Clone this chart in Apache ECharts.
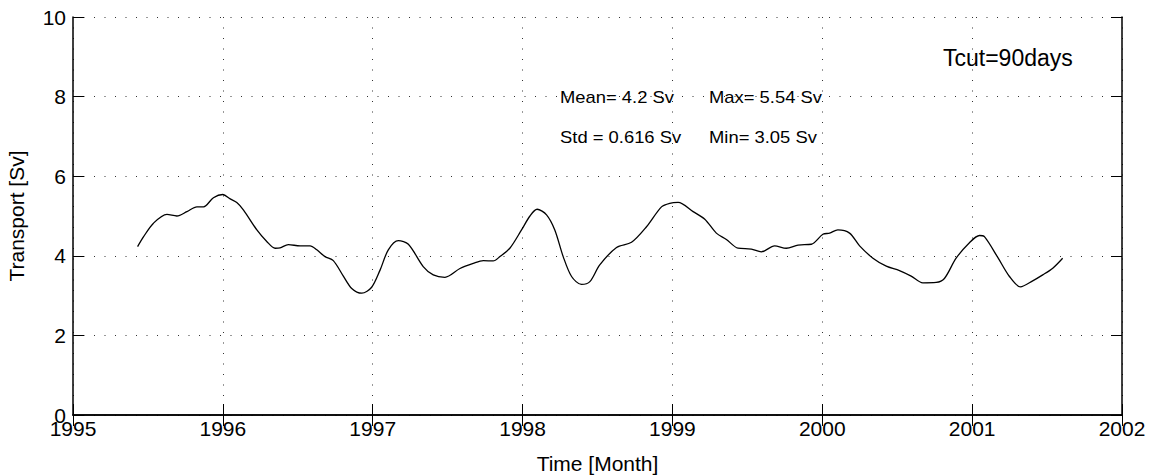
<!DOCTYPE html>
<html>
<head>
<meta charset="utf-8">
<title>Transport</title>
<script src="https://cdn.jsdelivr.net/npm/echarts@6/dist/echarts.min.js"></script>
<style>
    html, body { margin: 0; padding: 0; background: #fff; }
    #chart { width: 1154px; height: 476px; }
</style>
</head>
<body>
<div id="chart"></div>
<script>
    // 数据: 时间 (年) 与 输运量 (Sv)
    var times = [
        1995.431, 1995.471, 1995.537, 1995.627, 1995.693, 1995.760, 1995.827, 1995.871, 1995.937, 1996.000,
        1996.049, 1996.093, 1996.138, 1996.227, 1996.293, 1996.349, 1996.382, 1996.437, 1996.515, 1996.582,
        1996.627, 1996.682, 1996.737, 1996.804, 1996.860, 1996.927, 1996.993, 1997.049, 1997.104, 1997.171,
        1997.238, 1997.337, 1997.404, 1997.482, 1997.582, 1997.671, 1997.738, 1997.804, 1997.849, 1997.915,
        1997.993, 1998.049, 1998.097, 1998.160, 1998.215, 1998.271, 1998.327, 1998.393, 1998.449, 1998.515,
        1998.627, 1998.727, 1998.827, 1998.927, 1998.982, 1999.038, 1999.138, 1999.216, 1999.293, 1999.360,
        1999.438, 1999.527, 1999.593, 1999.682, 1999.760, 1999.838, 1999.927, 2000.004, 2000.049, 2000.104,
        2000.182, 2000.249, 2000.338, 2000.427, 2000.515, 2000.593, 2000.671, 2000.760, 2000.815, 2000.893,
        2000.982, 2001.049, 2001.082, 2001.171, 2001.249, 2001.322, 2001.404, 2001.471, 2001.538, 2001.604
    ];
    var transport = [
        4.23, 4.48, 4.82, 5.04, 5.00, 5.11, 5.23, 5.23, 5.46, 5.54,
        5.43, 5.34, 5.15, 4.65, 4.36, 4.19, 4.20, 4.28, 4.25, 4.25,
        4.15, 3.98, 3.88, 3.49, 3.18, 3.06, 3.21, 3.64, 4.15, 4.38,
        4.29, 3.73, 3.52, 3.46, 3.68, 3.81, 3.88, 3.87, 3.98, 4.19,
        4.65, 5.00, 5.17, 5.03, 4.65, 3.98, 3.48, 3.28, 3.35, 3.77,
        4.21, 4.34, 4.73, 5.23, 5.32, 5.34, 5.11, 4.92, 4.57, 4.41,
        4.19, 4.17, 4.10, 4.25, 4.19, 4.27, 4.29, 4.54, 4.57, 4.65,
        4.57, 4.25, 3.94, 3.74, 3.63, 3.49, 3.32, 3.33, 3.43, 3.94,
        4.33, 4.51, 4.48, 3.96, 3.48, 3.22, 3.37, 3.52, 3.69, 3.94
    ];
    // 统计文字
    var statsLeft = ['Mean= 4.2 Sv', 'Std = 0.616 Sv'];
    var statsRight = ['Max= 5.54 Sv', 'Min= 3.05 Sv'];
    var noteText = 'Tcut=90days';

    var FONT = '"Liberation Sans", Arial, sans-serif';

    var seriesData = times.map(function (t, i) { return [t, transport[i]]; });

    var gridLine = {
        show: true,
        lineStyle: { color: '#333', width: 1, type: [1, 9.5] }
    };
    var boxLine = { show: true, lineStyle: { color: '#000', width: 1.5 } };
    var tickIn = { show: true, inside: true, length: 11, lineStyle: { color: '#000' } };

    var chart = echarts.init(document.getElementById('chart'), null, { renderer: 'svg' });

    var textEls = [];
    statsLeft.forEach(function (s, i) {
        textEls.push({
            type: 'text', x: 560, y: 97 + i * 40, scaleX: 1.15,
            style: { text: s, font: '16px ' + FONT, fill: '#000', verticalAlign: 'middle' }
        });
    });
    statsRight.forEach(function (s, i) {
        textEls.push({
            type: 'text', x: 709, y: 97 + i * 40, scaleX: 1.15,
            style: { text: s, font: '16px ' + FONT, fill: '#000', verticalAlign: 'middle' }
        });
    });
    textEls.push({
        type: 'text', x: 943, y: 58,
        style: { text: noteText, font: '23px ' + FONT, fill: '#000', verticalAlign: 'middle' }
    });

    var option = {
        animation: false,
        backgroundColor: '#fff',
        grid: { left: 73, right: 32, top: 17, bottom: 61, containLabel: false, outerBoundsMode: 'none' },
        xAxis: [{
            type: 'value',
            min: 1995, max: 2002, interval: 1,
            name: 'Time [Month]',
            nameLocation: 'middle',
            nameGap: 38,
            nameTextStyle: { fontFamily: FONT, fontSize: 21, color: '#000' },
            axisLine: boxLine,
            axisTick: tickIn,
            axisLabel: {
                fontFamily: FONT, fontSize: 21, color: '#000', margin: 3,
                formatter: function (v) { return String(v); }
            },
            splitLine: gridLine
        }, {
            type: 'value', position: 'top',
            min: 1995, max: 2002, interval: 1,
            axisLine: boxLine,
            axisTick: tickIn,
            axisLabel: { show: false },
            splitLine: { show: false }
        }],
        yAxis: [{
            type: 'value',
            min: 0, max: 10, interval: 2,
            name: 'Transport [Sv]',
            nameLocation: 'middle',
            nameGap: 46,
            nameTextStyle: { fontFamily: FONT, fontSize: 21, color: '#000' },
            axisLine: boxLine,
            axisTick: tickIn,
            axisLabel: { fontFamily: FONT, fontSize: 21, color: '#000', margin: 7 },
            splitLine: gridLine
        }, {
            type: 'value', position: 'right',
            min: 0, max: 10, interval: 2,
            axisLine: boxLine,
            axisTick: tickIn,
            axisLabel: { show: false },
            splitLine: { show: false }
        }],
        series: [{
            type: 'line',
            xAxisIndex: 0,
            yAxisIndex: 0,
            data: seriesData,
            showSymbol: false,
            smooth: 0.3,
            lineStyle: { color: '#000', width: 1.3 }
        }],
        graphic: textEls
    };
    chart.setOption(option);
</script>
</body>
</html>
